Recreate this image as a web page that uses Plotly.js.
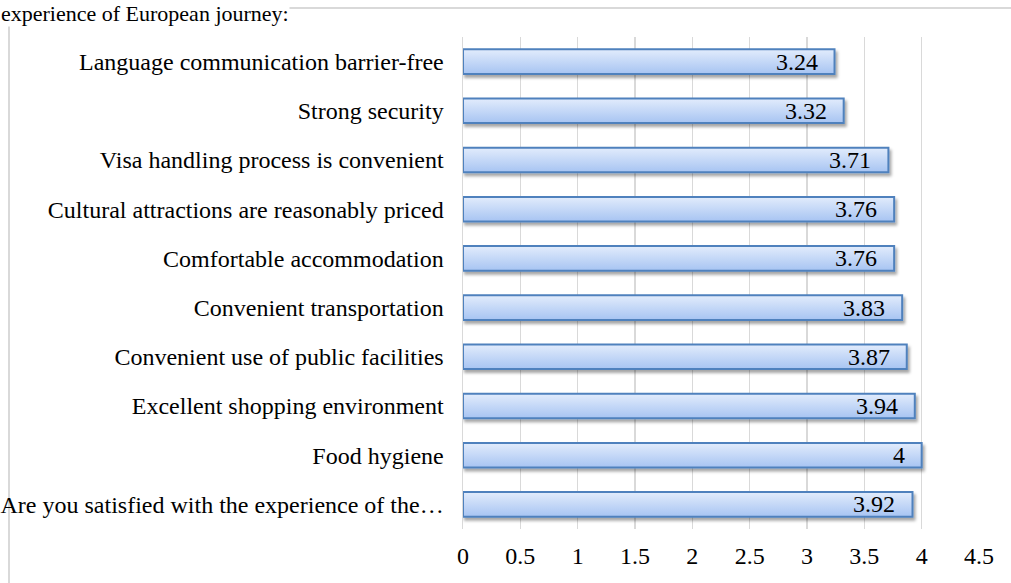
<!DOCTYPE html>
<html>
<head>
<meta charset="utf-8">
<script src="https://cdn.plot.ly/plotly-3.0.1.min.js"></script>
<style>
  html, body { margin: 0; padding: 0; background: #ffffff; overflow: hidden; }
  #frame { position: absolute; left: 8px; top: 7px; width: 1100px; height: 700px;
           border-left: 2px solid #d9d9d9; border-top: 2px solid #d9d9d9; box-sizing: border-box; }
  #chart { position: absolute; left: 0; top: 0; width: 1011px; height: 583px; }
</style>
</head>
<body>
<div id="frame"></div>
<div id="chart"></div>
<script>
const categories = [
  "Language communication barrier-free",
  "Strong security",
  "Visa handling process is convenient",
  "Cultural attractions are reasonably priced",
  "Comfortable accommodation",
  "Convenient transportation",
  "Convenient use of public facilities",
  "Excellent shopping environment",
  "Food hygiene",
  "Are you satisfied with the experience of the\u2026"
];
const values = [3.24, 3.32, 3.71, 3.76, 3.76, 3.83, 3.87, 3.94, 4, 3.92];
const valueLabels = ["3.24", "3.32", "3.71", "3.76", "3.76", "3.83", "3.87", "3.94", "4", "3.92"];
const xTickValues = [0, 0.5, 1, 1.5, 2, 2.5, 3, 3.5, 4, 4.5];
const titleText = "experience of European journey:";

const serif = "Liberation Serif, Times New Roman, serif";
const fs = 24;

const trace = {
  type: "bar",
  orientation: "h",
  x: values,
  y: categories,
  marker: {
    color: "#c4d8f6",
    line: { color: "#4f81bd", width: 2 }
  },
  width: 0.5,
  hoverinfo: "none"
};

const annotations = values.map((v, i) => ({
  x: v, y: categories[i], xref: "x", yref: "y",
  text: valueLabels[i], showarrow: false,
  xanchor: "right", yanchor: "middle", xshift: -15, yshift: 0,
  font: { family: serif, size: fs, color: "#000000" }
}));

annotations.push({
  xref: "paper", yref: "paper", x: 0, y: 1,
  xanchor: "left", yanchor: "top",
  xshift: -463, yshift: 37,
  text: titleText, showarrow: false,
  bgcolor: "#ffffff", borderpad: 0,
  font: { family: serif, size: 22, color: "#000000" }
});

const layout = {
  width: 1011, height: 583,
  margin: { l: 463, r: 32, t: 37, b: 54, pad: 0 },
  paper_bgcolor: "rgba(0,0,0,0)",
  plot_bgcolor: "rgba(0,0,0,0)",
  showlegend: false,
  font: { family: serif, size: fs, color: "#000000" },
  xaxis: {
    range: [0, 4.5],
    tickvals: xTickValues,
    ticktext: xTickValues.map(String),
    showgrid: true, gridcolor: "#d9d9d9", gridwidth: 1.5,
    zeroline: false, showline: false,
    ticks: "", ticklabelstandoff: 10,
    tickfont: { family: serif, size: fs, color: "#000000" },
    fixedrange: true
  },
  yaxis: {
    type: "category",
    autorange: "reversed",
    showgrid: false, zeroline: false,
    showline: true, linecolor: "#d9d9d9", linewidth: 1.5,
    ticks: "", ticklabelstandoff: 13,
    tickfont: { family: serif, size: fs, color: "#000000" },
    fixedrange: true
  },
  annotations: annotations
};

function styleBars(gd) {
  const NS = "http://www.w3.org/2000/svg";
  const svg = gd.querySelector("svg.main-svg");
  if (!svg) return;
  let defs = svg.querySelector("defs");
  if (!defs) { defs = document.createElementNS(NS, "defs"); svg.insertBefore(defs, svg.firstChild); }
  if (!svg.querySelector("#barGrad")) {
    const g = document.createElementNS(NS, "linearGradient");
    g.setAttribute("id", "barGrad");
    g.setAttribute("x1", "0"); g.setAttribute("y1", "0");
    g.setAttribute("x2", "0"); g.setAttribute("y2", "1");
    [["0", "#e2ecfc"], ["1", "#a7c4f2"]].forEach(([o, c]) => {
      const s = document.createElementNS(NS, "stop");
      s.setAttribute("offset", o); s.setAttribute("stop-color", c);
      g.appendChild(s);
    });
    defs.appendChild(g);
    const f = document.createElementNS(NS, "filter");
    f.setAttribute("id", "barShadow");
    f.setAttribute("x", "-5%"); f.setAttribute("y", "-40%");
    f.setAttribute("width", "115%"); f.setAttribute("height", "200%");
    const d = document.createElementNS(NS, "feDropShadow");
    d.setAttribute("dx", "2"); d.setAttribute("dy", "3");
    d.setAttribute("stdDeviation", "1.8");
    d.setAttribute("flood-color", "#000000");
    d.setAttribute("flood-opacity", "0.35");
    f.appendChild(d);
    defs.appendChild(f);
  }
  gd.querySelectorAll("g.point path").forEach(p => {
    p.style.setProperty("fill", "url(#barGrad)");
    p.setAttribute("filter", "url(#barShadow)");
  });
}

Plotly.newPlot("chart", [trace], layout, { displayModeBar: false, staticPlot: true })
  .then(styleBars);
</script>
</body>
</html>
